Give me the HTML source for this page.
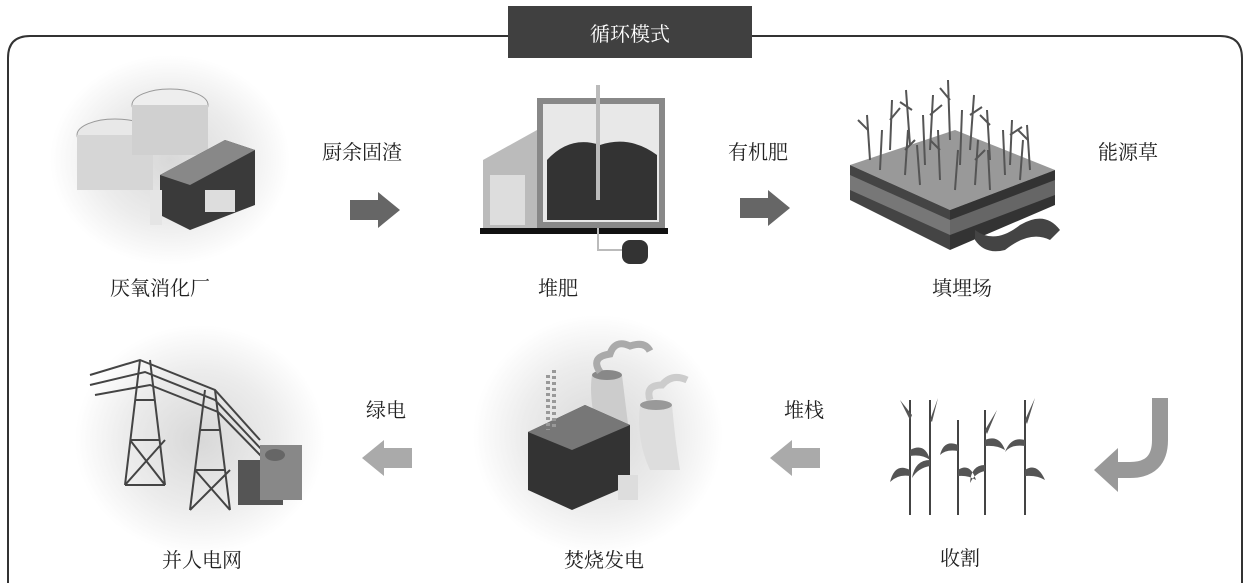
<!DOCTYPE html>
<html><head><meta charset="utf-8"><style>
html,body{margin:0;padding:0;background:#fff;}
body{width:1245px;height:585px;position:relative;overflow:hidden;font-family:"Liberation Serif","Noto Serif CJK SC","Noto Sans CJK SC",serif;}
.t{position:absolute;font-size:20px;color:#222;white-space:nowrap;}
</style></head><body>
<svg width="1245" height="585" style="position:absolute;left:0;top:0">
<defs>
<radialGradient id="g" cx="50%" cy="50%" r="50%">
<stop offset="0%" stop-color="#d8d8d8"/><stop offset="60%" stop-color="#ececec"/><stop offset="100%" stop-color="#fff"/>
</radialGradient>
</defs>
<path d="M8,583 L8,58 Q8,36 30,36 L1220,36 Q1242,36 1242,58 L1242,583" fill="none" stroke="#333" stroke-width="2"/>
<rect x="508" y="6" width="244" height="52" fill="#404040"/>
<ellipse cx="170" cy="160" rx="120" ry="105" fill="url(#g)"/>
<ellipse cx="200" cy="440" rx="125" ry="115" fill="url(#g)"/>
<ellipse cx="598" cy="435" rx="125" ry="120" fill="url(#g)"/>
<ellipse cx="115" cy="135" rx="38" ry="16" fill="#e8e8e8" stroke="#999"/>
<rect x="77" y="135" width="76" height="55" fill="#d6d6d6"/>
<ellipse cx="170" cy="105" rx="38" ry="16" fill="#eee" stroke="#999"/>
<rect x="132" y="105" width="76" height="50" fill="#d0d0d0"/>
<polygon points="160,175 225,140 255,150 255,205 190,230 160,215" fill="#3a3a3a"/>
<polygon points="160,175 225,140 255,150 190,185" fill="#888"/>
<rect x="205" y="190" width="30" height="22" fill="#ddd"/>
<rect x="150" y="190" width="12" height="35" fill="#e5e5e5"/>
<rect x="537" y="98" width="128" height="130" fill="#888"/>
<rect x="543" y="104" width="116" height="118" fill="#e8e8e8"/>
<path d="M547,220 L547,160 Q570,135 600,145 Q630,135 657,155 L657,220 Z" fill="#333"/>
<line x1="598" y1="85" x2="598" y2="200" stroke="#bbb" stroke-width="4"/>
<polygon points="483,160 537,130 537,228 483,228" fill="#bbb"/>
<rect x="490" y="175" width="35" height="50" fill="#ddd"/>
<rect x="480" y="228" width="188" height="6" fill="#111"/>
<path d="M598,228 L598,250 L622,250" stroke="#bbb" stroke-width="2" fill="none"/>
<rect x="622" y="240" width="26" height="24" rx="8" fill="#333"/>
<polygon points="850,165 955,130 1055,170 950,210" fill="#999"/>
<polygon points="850,165 950,210 950,250 850,200" fill="#444"/>
<polygon points="950,210 1055,170 1055,205 950,250" fill="#333"/>
<polygon points="850,175 950,220 950,235 850,190" fill="#777"/>
<polygon points="950,220 1055,180 1055,195 950,235" fill="#666"/>
<g stroke="#555" stroke-width="2">
<path d="M870,160 l-3,-45 M890,150 l2,-50 M910,145 l-4,-55 M930,150 l3,-55 M950,140 l-2,-60 M970,150 l4,-55 M990,160 l-3,-50 M1010,165 l2,-45 M1030,170 l-3,-45 M905,175 l3,-45 M940,180 l-2,-50 M975,185 l3,-45 M1005,175 l-2,-45 M960,165 l2,-55 M925,165 l-2,-50 M880,170 l2,-40 M920,185 l-3,-40 M955,190 l3,-40 M990,190 l-2,-40 M1020,180 l3,-40"/>
<path d="M868,130 l-10,-10 M890,120 l10,-12 M912,110 l-12,-8 M930,115 l12,-10 M950,100 l-10,-12 M970,115 l12,-8 M990,125 l-10,-10 M1010,135 l12,-8 M1028,140 l-10,-10 M905,150 l10,-10 M940,150 l-10,-10 M975,160 l10,-10"/>
</g>
<path d="M975,230 Q995,245 1020,225 Q1045,210 1060,230 L1050,240 Q1030,230 1005,250 Q985,255 975,240 Z" fill="#444"/>
<g stroke="#444" stroke-width="2" fill="none">
<path d="M140,360 L125,485 M150,360 L165,485 M125,485 L165,485 M130,440 L160,440 M135,400 L155,400 M130,440 L165,485 M165,440 L125,485"/>
<path d="M205,390 L190,510 M215,390 L230,510 M195,470 L225,470 M200,430 L220,430 M190,510 L230,470 M230,510 L195,470"/>
<path d="M90,375 L140,360 L215,390 L260,440 M90,385 L145,372 L215,400 L262,450 M95,395 L150,385 L218,412 L265,460"/>
</g>
<rect x="238" y="460" width="45" height="45" fill="#555"/>
<rect x="260" y="445" width="42" height="55" fill="#888"/>
<ellipse cx="275" cy="455" rx="10" ry="6" fill="#666"/>
<path d="M592,375 Q588,400 600,440 L630,440 Q625,400 622,375 Z" fill="#ccc"/>
<path d="M640,405 Q636,440 650,470 L680,470 Q675,440 672,405 Z" fill="#ddd"/>
<ellipse cx="607" cy="375" rx="15" ry="5" fill="#888"/>
<ellipse cx="656" cy="405" rx="16" ry="5" fill="#999"/>
<path d="M600,372 q-10,-15 10,-18 q5,-15 20,-8 q15,-5 20,5" fill="none" stroke="#aaa" stroke-width="7"/>
<path d="M650,400 q-5,-15 12,-15 q10,-12 25,-5" fill="none" stroke="#ccc" stroke-width="7"/>
<polygon points="528,432 585,405 630,425 630,485 572,510 528,490" fill="#333"/>
<polygon points="528,432 585,405 630,425 572,450" fill="#777"/>
<line x1="548" y1="375" x2="548" y2="430" stroke="#999" stroke-width="4" stroke-dasharray="3,3"/>
<line x1="554" y1="370" x2="554" y2="428" stroke="#999" stroke-width="4" stroke-dasharray="3,3"/>
<rect x="618" y="475" width="20" height="25" fill="#ddd"/>
<g stroke="#444" stroke-width="2" fill="none">
<path d="M910,515 L910,400 M930,515 L930,400 M958,515 L958,420 M985,515 L985,410 M1025,515 L1025,400"/>
</g>
<g fill="#555">
<path d="M910,470 q-15,-8 -20,12 q8,-8 20,-6z M910,450 q15,-8 20,10 q-8,-6 -20,-4z M930,460 q-15,0 -18,18 q6,-10 18,-12z M958,470 q12,-8 18,10 q-8,-5 -18,-4z M985,465 q-14,0 -15,18 q5,-10 15,-12z M1025,470 q12,-8 20,10 q-8,-5 -20,-4z M958,445 q-14,-6 -18,10 q6,-6 18,-4z M985,440 q14,-6 20,10 q-8,-5 -20,-4z M1025,440 q-14,-4 -20,12 q6,-8 20,-6z M910,420 l-10,-20 l12,15z M930,420 l8,-22 l-6,24z M985,430 l12,-20 l-10,24z M1025,420 l10,-22 l-8,26z"/>
</g>
<polygon points="350,200 378,200 378,192 400,210 378,228 378,220 350,220" fill="#666"/>
<polygon points="740,198 768,198 768,190 790,208 768,226 768,218 740,218" fill="#666"/>
<polygon points="412,448 384,448 384,440 362,458 384,476 384,468 412,468" fill="#aaa"/>
<polygon points="820,448 792,448 792,440 770,458 792,476 792,468 820,468" fill="#aaa"/>
<path d="M1160,398 L1160,440 Q1160,470 1130,470 L1115,470" fill="none" stroke="#999" stroke-width="16"/>
<polygon points="1118,448 1094,470 1118,492" fill="#999"/>
</svg>
<div class="t" style="left:590px;top:18px;color:#fff;font-size:20px">循环模式</div>
<div class="t" style="left:322px;top:136px">厨余固渣</div>
<div class="t" style="left:728px;top:136px">有机肥</div>
<div class="t" style="left:1098px;top:136px">能源草</div>
<div class="t" style="left:110px;top:272px">厌氧消化厂</div>
<div class="t" style="left:538px;top:272px">堆肥</div>
<div class="t" style="left:932px;top:272px">填埋场</div>
<div class="t" style="left:366px;top:394px">绿电</div>
<div class="t" style="left:784px;top:394px">堆栈</div>
<div class="t" style="left:162px;top:544px">并人电网</div>
<div class="t" style="left:564px;top:544px">焚烧发电</div>
<div class="t" style="left:940px;top:542px">收割</div>
</body></html>
